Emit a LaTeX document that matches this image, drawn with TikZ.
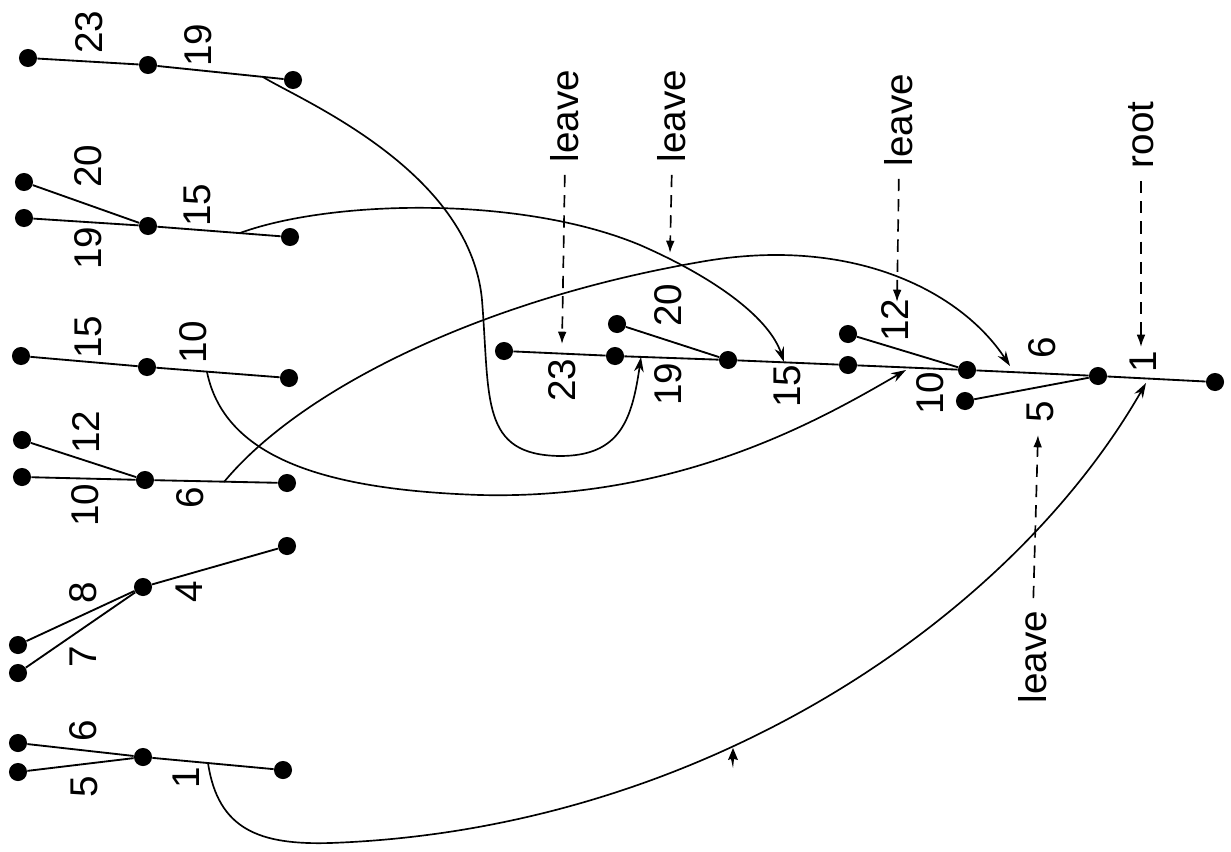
\documentclass[tikz,border=0pt]{standalone}
\usepackage{fontspec}
\setmainfont{Liberation Sans}
\usetikzlibrary{arrows.meta}
\begin{document}
\begin{tikzpicture}[x=0.02cm,y=-0.02cm,
  dot/.style={circle,fill=black,inner sep=0pt,minimum size=10.3pt},
  edge/.style={line width=1.05pt},
  link/.style={line width=0.95pt,-{Stealth[length=8.5pt,width=5.5pt]}},
  dasharrow/.style={line width=0.95pt,dash pattern=on 7pt off 4.5pt,shorten <=7pt,-{Latex[length=7pt,width=5pt]}},
  lab/.style={rotate=90,font=\fontsize{22}{26}\selectfont,inner sep=0pt}]
\useasboundingbox (0,0) rectangle (1231,852);

% ---- group 1
\node[dot] (a1) at (28,58) {};
\node[dot] (a2) at (148,65) {};
\node[dot] (a3) at (293,80) {};
\draw[edge] (a1)--(a2)--(a3);
\node[lab] (la1) at (89,32) {23};
\node[lab] (la2) at (198,45) {19};

% ---- group 2
\node[dot] (b1) at (24,182) {};
\node[dot] (b2) at (24,218) {};
\node[dot] (b3) at (148,226) {};
\node[dot] (b4) at (290,237) {};
\draw[edge] (b1)--(b3);
\draw[edge] (b2)--(b3)--(b4);
\node[lab] (lb1) at (88,166) {20};
\node[lab] (lb2) at (88,248) {19};
\node[lab] (lb3) at (197,205) {15};

% ---- group 3
\node[dot] (c1) at (21,356) {};
\node[dot] (c2) at (147,367) {};
\node[dot] (c3) at (289,378) {};
\draw[edge] (c1)--(c2)--(c3);
\node[lab] (lc1) at (88,337) {15};
\node[lab] (lc2) at (193,342) {10};

% ---- group 4
\node[dot] (d1) at (22,440) {};
\node[dot] (d2) at (22,477) {};
\node[dot] (d3) at (145,480) {};
\node[dot] (d4) at (287,483) {};
\draw[edge] (d1)--(d3);
\draw[edge] (d2)--(d3)--(d4);
\node[lab] (ld1) at (86,432) {12};
\node[lab] (ld2) at (85,505) {10};
\node[lab] (ld3) at (190,498) {6};

% ---- group 5
\node[dot] (f1) at (18,645) {};
\node[dot] (f2) at (18,673) {};
\node[dot] (f3) at (143,587) {};
\node[dot] (f4) at (287,546) {};
\draw[edge] (f1)--(f3);
\draw[edge] (f2)--(f3)--(f4);
\node[lab] (lf1) at (83,593) {8};
\node[lab] (lf2) at (83,657) {7};
\node[lab] (lf3) at (189,592) {4};

% ---- group 6
\node[dot] (g1) at (18,743) {};
\node[dot] (g2) at (18,772) {};
\node[dot] (g3) at (143,757) {};
\node[dot] (g4) at (283,770) {};
\draw[edge] (g1)--(g3);
\draw[edge] (g2)--(g3)--(g4);
\node[lab] (lg1) at (83,731) {6};
\node[lab] (lg2) at (84,787) {5};
\node[lab] (lg3) at (186,778) {1};

% ---- right tree
\node[dot] (r1) at (504,351) {};
\node[dot] (r2) at (615,356) {};
\node[dot] (r3) at (728,360) {};
\node[dot] (r4) at (848,365) {};
\node[dot] (r5) at (967,370) {};
\node[dot] (r6) at (1098,376) {};
\node[dot] (r7) at (1215,382) {};
\node[dot] (q1) at (617,324) {};
\node[dot] (q2) at (848,334) {};
\node[dot] (q3) at (965,401) {};
\draw[edge] (r1)--(r2)--(r3)--(r4)--(r5)--(r6)--(r7);
\draw[edge] (q1)--(r3);
\draw[edge] (q2)--(r5);
\draw[edge] (q3)--(r6);
\node[lab] (lr1) at (562,380) {23};
\node[lab] (lr2) at (668,384) {19};
\node[lab] (lr3) at (668,305) {20};
\node[lab] (lr4) at (787,386) {15};
\node[lab] (lr5) at (895,320) {12};
\node[lab] (lr6) at (930,393) {10};
\node[lab] (lr7) at (1042,348) {6};
\node[lab] (lr8) at (1040,412) {5};
\node[lab] (lr9) at (1143,362) {1};

% ---- leave / root markers
\node[lab] (lv1) at (565,116) {leave};
\node[lab] (lv2) at (672,116) {leave};
\node[lab] (lv3) at (899,120) {leave};
\node[lab] (rt) at (1141,135) {root};
\node[lab] (lv4) at (1033,657) {leave};
\coordinate (t1) at (562,344);
\coordinate (t2) at (670,253);
\coordinate (t3) at (897,302);
\coordinate (t4) at (1141,347);
\coordinate (t5) at (1038,435);
\draw[dasharrow] (lv1.west) -- (t1);
\draw[dasharrow] (lv2.west) -- (t2);
\draw[dasharrow] (lv3.west) -- (t3);
\draw[dasharrow] (rt.west) -- (t4);
\draw[dasharrow] (lv4.east) -- (t5);

% ---- connecting curves
\coordinate (s1) at (263,77);
\coordinate (s2) at (240,233);
\coordinate (s3) at (207,372);
\coordinate (s4) at (224,482);
\coordinate (s5) at (208,763);
\coordinate (e1) at (641,357);
\coordinate (e2) at (784,362);
\coordinate (e3) at (906,370);
\coordinate (e4) at (1010,366);
\coordinate (e5) at (1146,383);

\draw[link] (s1) .. controls (300,100) and (470,170) .. (482,300)
  .. controls (490,400) and (480,455) .. (560,456)
  .. controls (620,456) and (632,420) .. (e1);
\draw[link] (s2) .. controls (330,200) and (520,195) .. (640,245)
  .. controls (720,280) and (770,320) .. (e2);
\draw[link] (s3) .. controls (225,460) and (330,490) .. (480,495)
  .. controls (680,500) and (820,420) .. (e3);
\draw[link] (s4) .. controls (300,390) and (480,300) .. (700,262)
  .. controls (850,235) and (960,290) .. (e4);
\draw[link] (s5) .. controls (218,830) and (260,845) .. (330,843)
  .. controls (700,830) and (1010,620) .. (e5);

% small mark below the long curve
\fill (733,748) -- (738,760) -- (734,759) -- (733,768) -- (731,759) -- (728,760) -- cycle;
\end{tikzpicture}
\end{document}
